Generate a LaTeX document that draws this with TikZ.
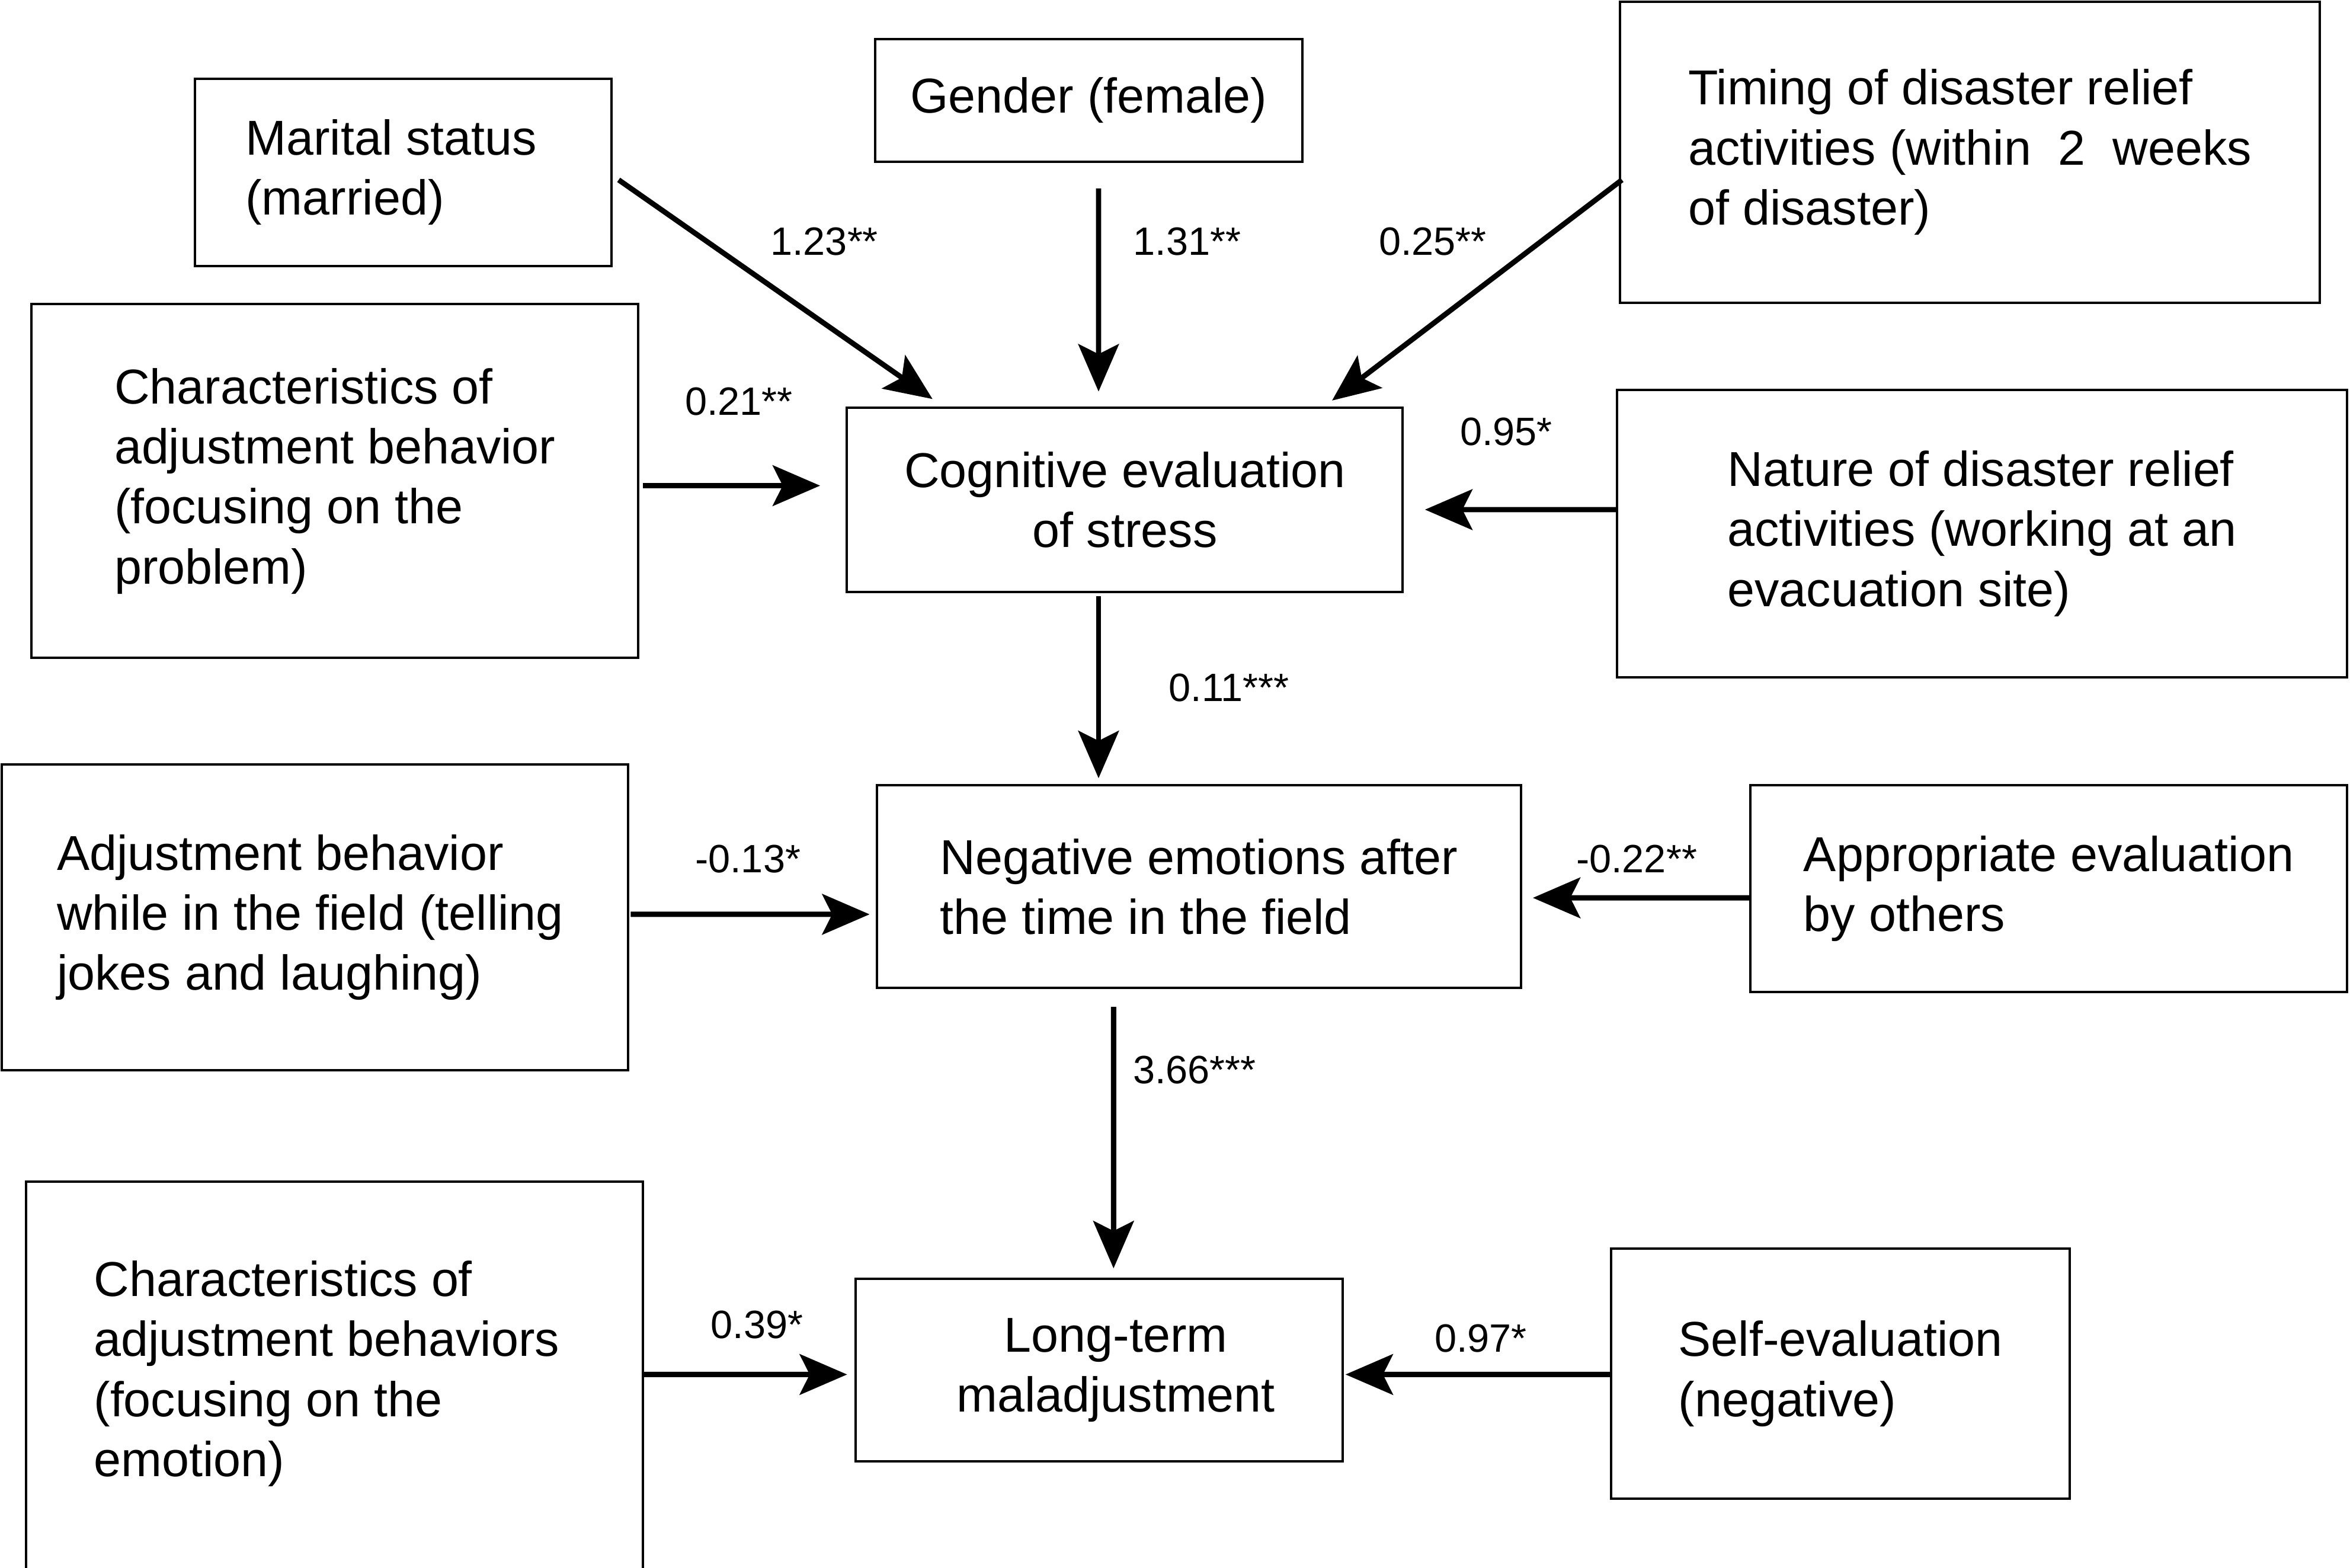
\documentclass[tikz,border=0pt]{standalone}
\usepackage{fontspec}
\setmainfont{Liberation Sans}
\usetikzlibrary{arrows.meta,calc}
\tikzset{
  >={Stealth[length=9pt,width=7.7pt,inset=1.9pt]},
  box/.style={draw, line width=0.45pt, inner sep=0pt, align=left, font=\fontsize{9.3}{11.4}\selectfont},
  midbox/.style={box, align=center},
  coef/.style={inner sep=1pt, font=\fontsize{7.5}{9}\selectfont},
  thinarrow/.style={->, line width=1pt},
}

\begin{document}
\begin{tikzpicture}[x=0.1mm, y=-0.1mm]
  \useasboundingbox[fill=white] (0,0) rectangle (1568,1046);

  % predictors of the cognitive evaluation
  \node[box, minimum width=2.78cm, minimum height=1.25cm] (marital) at (269,115) {\hspace*{-1.6mm}Marital status\\\hspace*{-1.6mm}(married)};
  \node[midbox, minimum width=2.85cm, minimum height=0.82cm] (gender) at (726.5,67) {Gender (female)};
  \node[box, minimum width=4.67cm, minimum height=2.01cm] (timing) at (1314.5,101.5) {Timing of disaster relief\\activities (within~ 2~ weeks\\of disaster)};
  \node[box, minimum width=4.05cm, minimum height=2.36cm] (charprob) at (223.5,321) {Characteristics of\\adjustment behavior\\(focusing on the\\problem)};
  \node[midbox, minimum width=3.71cm, minimum height=1.23cm] (cogeval) at (750.5,333.5) {Cognitive evaluation\\of stress};
  \node[box, minimum width=4.87cm, minimum height=1.92cm] (nature) at (1322.5,356) {Nature of disaster relief\\activities (working at an\\evacuation site)};

  % negative emotions
  \node[box, minimum width=4.18cm, minimum height=2.04cm] (fieldjokes) at (210,612) {\hspace*{-0.6mm}Adjustment behavior\\\hspace*{-0.6mm}while in the field (telling\\\hspace*{-0.6mm}jokes and laughing)};
  \node[box, minimum width=4.30cm, minimum height=1.35cm] (negemo) at (800,591.5) {Negative emotions after\\the time in the field};
  \node[box, minimum width=3.98cm, minimum height=1.38cm] (approp) at (1367,593) {Appropriate evaluation\\by others};

  % long-term outcome
  \node[box, draw=none, minimum width=4.10cm, minimum height=2.55cm] (charemo) at (223,916.5) {\hspace*{-1mm}Characteristics of\\\hspace*{-1mm}adjustment behaviors\\\hspace*{-1mm}(focusing on the\\\hspace*{-1mm}emotion)};
  \draw[line width=0.45pt] ([yshift=-5mm]charemo.south west) |- (charemo.north east) -- ([yshift=-5mm]charemo.south east);
  \node[midbox, minimum width=3.25cm, minimum height=1.22cm] (longterm) at (733.5,914) {\hspace*{2.2mm}Long-term\\\hspace*{2.2mm}maladjustment};
  \node[box, minimum width=3.06cm, minimum height=1.67cm] (selfeval) at (1228,916.5) {Self-evaluation\\(negative)};

  \draw[thinarrow] ($(marital.east)+(4,5)$) -- ($(cogeval.north west)+(58,-5)$);
  \draw[thinarrow] ($(gender.south)+(6.5,17)$) -- ($(cogeval.north)+(-17.5,-10)$);
  \draw[thinarrow] ($(timing.west)+(2,18.5)$) -- ($(cogeval.north east)+(-48,-4)$);
  \draw[thinarrow] ($(charprob.east)+(2,3)$) -- ($(cogeval.west)+(-17,-9.5)$);
  \draw[thinarrow] ($(nature.west)+(0,-16)$) -- ($(cogeval.east)+(14,6.5)$);
  \draw[thinarrow] ($(cogeval.south)+(-17.5,2)$) -- ($(negemo.north)+(-67,-4)$);
  \draw[thinarrow] ($(fieldjokes.east)+(1,-2)$) -- ($(negemo.west)+(-4,18.5)$);
  \draw[thinarrow] ($(approp.west)+(0,6)$) -- ($(negemo.east)+(7,7.5)$);
  \draw[thinarrow] ($(negemo.south)+(-57,12)$) -- ($(longterm.north)+(9.5,-6)$);
  \draw[thinarrow] ($(charemo.east)+(0,0.5)$) -- ($(longterm.west)+(-5,3)$);
  \draw[thinarrow] ($(selfeval.west)+(0,0.5)$) -- ($(longterm.east)+(1,3)$);

  \node[coef] (cmarital) at (550,161) {1.23**};
  \node[coef] (cgender) at (792,161) {1.31**};
  \node[coef] (ctiming) at (956,161) {0.25**};
  \node[coef] (ccharprob) at (493,268) {0.21**};
  \node[coef] (cnature) at (1005,288) {0.95*};
  \node[coef] (ccogeval) at (820,459) {0.11***};
  \node[coef] (cfield) at (499,573) {-0.13*};
  \node[coef] (capprop) at (1092,573) {-0.22**};
  \node[coef] (cnegemo) at (797,714) {3.66***};
  \node[coef] (ccharemo) at (505,884) {0.39*};
  \node[coef] (cselfeval) at (988,893) {0.97*};
\end{tikzpicture}
\end{document}
